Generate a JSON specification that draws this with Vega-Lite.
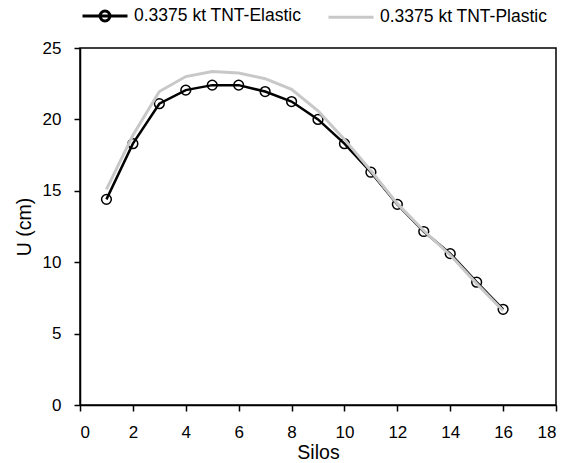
{
  "$schema": "https://vega.github.io/schema/vega-lite/v6.json",
  "width": 476,
  "height": 357,
  "autosize": {"type": "none"},
  "padding": {"left": 80, "top": 48, "right": 12, "bottom": 58},
  "background": "white",
  "config": {
    "font": "Liberation Sans",
    "view": {"stroke": "black", "strokeWidth": 1.5},
    "axis": {
      "domainColor": "black", "domainWidth": 1.5, "tickColor": "black", "tickWidth": 1.5,
      "tickSize": 6, "grid": false, "labelFont": "Liberation Sans", "labelFontSize": 17,
      "labelColor": "black", "titleFont": "Liberation Sans", "titleFontSize": 19.5,
      "titleFontWeight": "normal", "titleColor": "black"
    }
  },
  "data": {
    "values": [
      {"silo": 1, "U": 14.4, "series": "0.3375 kt TNT-Elastic"},
      {"silo": 2, "U": 18.3, "series": "0.3375 kt TNT-Elastic"},
      {"silo": 3, "U": 21.1, "series": "0.3375 kt TNT-Elastic"},
      {"silo": 4, "U": 22.05, "series": "0.3375 kt TNT-Elastic"},
      {"silo": 5, "U": 22.4, "series": "0.3375 kt TNT-Elastic"},
      {"silo": 6, "U": 22.4, "series": "0.3375 kt TNT-Elastic"},
      {"silo": 7, "U": 21.95, "series": "0.3375 kt TNT-Elastic"},
      {"silo": 8, "U": 21.25, "series": "0.3375 kt TNT-Elastic"},
      {"silo": 9, "U": 20.0, "series": "0.3375 kt TNT-Elastic"},
      {"silo": 10, "U": 18.3, "series": "0.3375 kt TNT-Elastic"},
      {"silo": 11, "U": 16.3, "series": "0.3375 kt TNT-Elastic"},
      {"silo": 12, "U": 14.05, "series": "0.3375 kt TNT-Elastic"},
      {"silo": 13, "U": 12.15, "series": "0.3375 kt TNT-Elastic"},
      {"silo": 14, "U": 10.6, "series": "0.3375 kt TNT-Elastic"},
      {"silo": 15, "U": 8.6, "series": "0.3375 kt TNT-Elastic"},
      {"silo": 16, "U": 6.7, "series": "0.3375 kt TNT-Elastic"},
      {"silo": 1, "U": 15.1, "series": "0.3375 kt TNT-Plastic"},
      {"silo": 2, "U": 18.9, "series": "0.3375 kt TNT-Plastic"},
      {"silo": 3, "U": 21.95, "series": "0.3375 kt TNT-Plastic"},
      {"silo": 4, "U": 23.0, "series": "0.3375 kt TNT-Plastic"},
      {"silo": 5, "U": 23.35, "series": "0.3375 kt TNT-Plastic"},
      {"silo": 6, "U": 23.25, "series": "0.3375 kt TNT-Plastic"},
      {"silo": 7, "U": 22.85, "series": "0.3375 kt TNT-Plastic"},
      {"silo": 8, "U": 22.1, "series": "0.3375 kt TNT-Plastic"},
      {"silo": 9, "U": 20.6, "series": "0.3375 kt TNT-Plastic"},
      {"silo": 10, "U": 18.6, "series": "0.3375 kt TNT-Plastic"},
      {"silo": 11, "U": 16.4, "series": "0.3375 kt TNT-Plastic"},
      {"silo": 12, "U": 14.1, "series": "0.3375 kt TNT-Plastic"},
      {"silo": 13, "U": 12.2, "series": "0.3375 kt TNT-Plastic"},
      {"silo": 14, "U": 10.5, "series": "0.3375 kt TNT-Plastic"},
      {"silo": 15, "U": 8.5, "series": "0.3375 kt TNT-Plastic"},
      {"silo": 16, "U": 6.6, "series": "0.3375 kt TNT-Plastic"}
    ]
  },
  "encoding": {
    "x": {
      "field": "silo", "type": "quantitative",
      "scale": {"domain": [0, 18], "nice": false, "zero": false},
      "axis": {"values": [0, 2, 4, 6, 8, 10, 12, 14, 16, 18], "title": "Silos", "labelPadding": 13, "titlePadding": 3}
    },
    "y": {
      "field": "U", "type": "quantitative",
      "scale": {"domain": [0, 25], "nice": false},
      "axis": {"values": [0, 5, 10, 15, 20, 25], "title": "U (cm)", "labelPadding": 13, "titlePadding": 8}
    }
  },
  "layer": [
    {
      "transform": [{"filter": "datum.series == '0.3375 kt TNT-Elastic'"}],
      "mark": {"type": "line", "strokeWidth": 2.5},
      "encoding": {
        "color": {
          "field": "series", "type": "nominal",
          "scale": {"domain": ["0.3375 kt TNT-Elastic", "0.3375 kt TNT-Plastic"], "range": ["black", "#c8c8c8"]},
          "legend": {
            "title": null, "orient": "none", "direction": "horizontal",
            "legendX": 1, "legendY": -56,
            "symbolSize": 2025, "symbolStrokeWidth": 3, "symbolType": "stroke",
            "labelFontSize": 17.5, "labelFont": "Liberation Sans", "labelColor": "black",
            "columnPadding": 20, "labelOffset": 5, "labelLimit": 300,
            "encode": {
              "symbols": {
                "update": {
                  "shape": {"signal": "datum.value == '0.3375 kt TNT-Elastic' ? 'M-1,0L1,0M0.22,0A0.22,0.22 0 1 1 -0.22,0A0.22,0.22 0 1 1 0.22,0' : 'M-1,0L1,0'"},
                  "fill": {"value": "transparent"}
                }
              }
            }
          }
        }
      }
    },
    {
      "transform": [{"filter": "datum.series == '0.3375 kt TNT-Elastic'"}],
      "mark": {"type": "point", "shape": "circle", "filled": false, "size": 95, "stroke": "black", "strokeWidth": 1.5, "opacity": 1}
    },
    {
      "transform": [{"filter": "datum.series == '0.3375 kt TNT-Plastic'"}],
      "mark": {"type": "line", "strokeWidth": 3},
      "encoding": {
        "color": {"field": "series", "type": "nominal"}
      }
    }
  ]
}
